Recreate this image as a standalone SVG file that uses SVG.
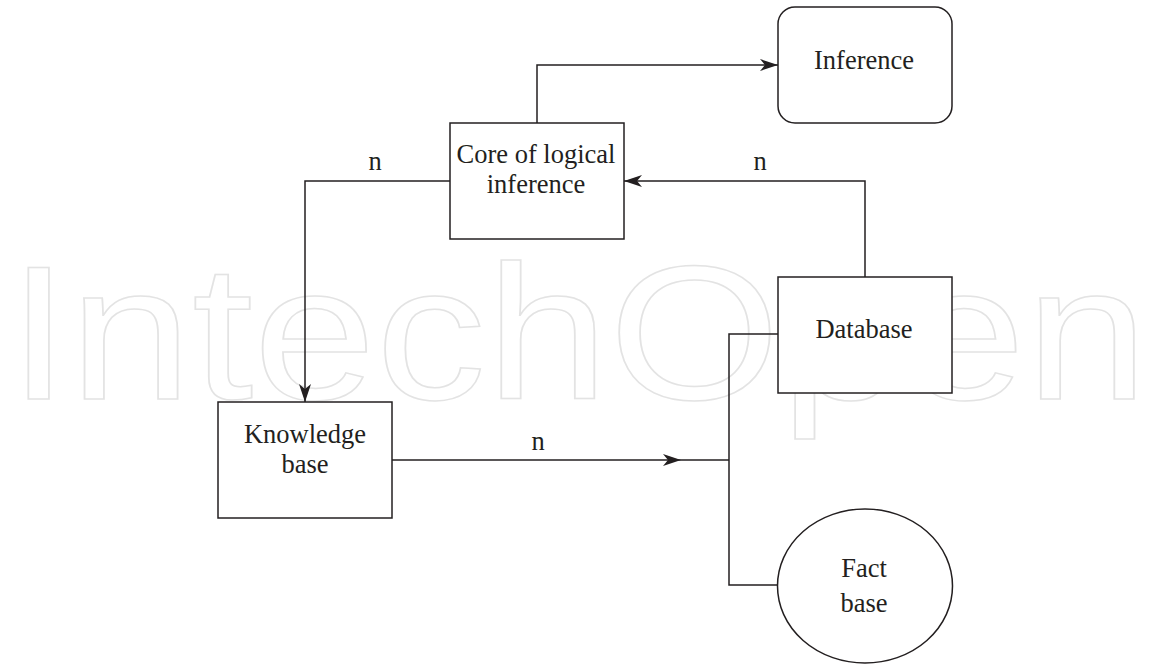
<svg xmlns="http://www.w3.org/2000/svg" width="1161" height="664" viewBox="0 0 1161 664">
<defs>
<style>
.box{fill:#fff;stroke:#231f20;stroke-width:1.5}
.lbl{font-family:"Liberation Serif","Times New Roman",serif;font-size:26.5px;fill:#231f20;text-anchor:middle}
.wire{fill:none;stroke:#231f20;stroke-width:1.5}
.wm{font-family:"Liberation Sans",Arial,sans-serif;font-size:192px;fill:none;stroke:#e3e3e3;stroke-width:1.5}
</style>
<marker id="ah" viewBox="0 0 18 12" refX="18" refY="6" markerWidth="18" markerHeight="12" markerUnits="userSpaceOnUse" orient="auto">
<path d="M0,0 L18,6 L0,12 L5,6 Z" fill="#231f20"/>
</marker>
</defs>
<rect width="1161" height="664" fill="#fff"/>
<text class="wm" x="8" y="399" textLength="1140" lengthAdjust="spacingAndGlyphs">IntechOpen</text>
<g id="connectors">
<path class="wire" d="M537,123 V65 H778" marker-end="url(#ah)"/>
<path class="wire" d="M865,277 V181 H624" marker-end="url(#ah)"/>
<path class="wire" d="M450,181 H305 V402" marker-end="url(#ah)"/>
<path class="wire" d="M392,460 H681" marker-end="url(#ah)"/>
<path class="wire" d="M681,460 H729"/>
<path class="wire" d="M778,334 H729 V585 H778"/>
<text class="lbl" x="375" y="170">n</text>
<text class="lbl" x="760" y="170">n</text>
<text class="lbl" x="538" y="450">n</text>
</g>
<g id="inference">
<rect class="box" x="778" y="7" width="174" height="116" rx="17"/>
<text class="lbl" x="864" y="69">Inference</text>
</g>
<g id="core">
<rect class="box" x="450" y="123" width="174" height="116"/>
<text class="lbl" x="536" y="163">Core of logical</text>
<text class="lbl" x="536" y="193">inference</text>
</g>
<g id="database">
<rect class="box" x="778" y="277" width="174" height="116"/>
<text class="lbl" x="864" y="338">Database</text>
</g>
<g id="knowledge">
<rect class="box" x="218" y="402" width="174" height="116"/>
<text class="lbl" x="305" y="443">Knowledge</text>
<text class="lbl" x="305" y="473">base</text>
</g>
<g id="factbase">
<ellipse class="box" cx="865" cy="586" rx="87.5" ry="77"/>
<text class="lbl" x="864" y="577">Fact</text>
<text class="lbl" x="864" y="612">base</text>
</g>
</svg>
